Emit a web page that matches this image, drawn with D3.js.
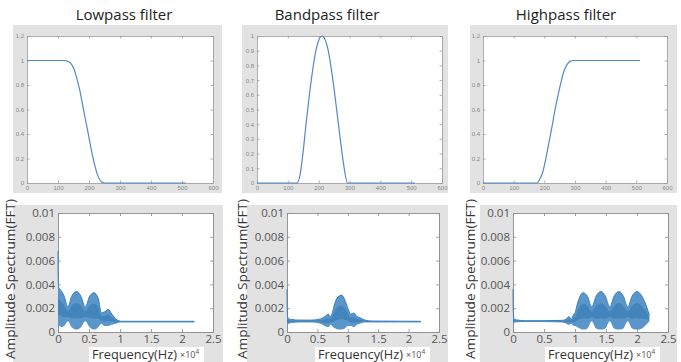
<!DOCTYPE html>
<html><head><meta charset="utf-8">
<script src="https://cdn.jsdelivr.net/npm/d3@7"></script>
<style>body{margin:0;background:#fff}svg{display:block}</style>
</head><body><svg id="c" width="681" height="362"></svg>
<script>
// ---------- data ----------
const titles = ["Lowpass filter", "Bandpass filter", "Highpass filter"];

const lowpassX  = [0,100,120,130,140,150,160,170,180,190,200,210,220,230,240,250,300,400,512];
const lowpassY  = [1,1,1,0.995,0.98,0.94,0.86,0.76,0.63,0.5,0.37,0.24,0.13,0.05,0.01,0,0,0,0];
const bandpassX = [0,100,130,140,150,160,170,180,190,200,211,220,230,240,250,260,270,280,294,300,400,512];
const bandpassY = [0,0,0,0.06,0.22,0.42,0.6,0.76,0.89,0.97,1.0,0.98,0.91,0.79,0.64,0.47,0.3,0.14,0,0,0,0];
const highpassX = [0,100,176,185,195,205,215,225,235,245,255,265,275,285,296,400,512];
const highpassY = [0,0,0,0.03,0.09,0.2,0.33,0.46,0.6,0.72,0.83,0.92,0.97,0.995,1,1,1];

const topXTicks = [0,100,200,300,400,500,600];
const topYTicksA = [0,0.2,0.4,0.6,0.8,1,1.2];
const topYTicksB = [0,0.1,0.2,0.3,0.4,0.5,0.6,0.7,0.8,0.9,1];

const specXTicks = [0,0.5,1,1.5,2,2.5];
const specYTicks = [0,0.002,0.004,0.006,0.008,0.01];

const lowSpecF = [0,0.003,0.01,0.03,0.06,0.1,0.16,0.22,0.3,0.37,0.44,0.51,0.58,0.65,0.7,0.75,0.81,0.87,0.93,0.98,1.02,1.5,2.2];
const lowSpecU = [0.0068,0.0045,0.0038,0.0036,0.0034,0.003,0.0021,0.003,0.0034,0.003,0.0021,0.003,0.0033,0.0028,0.0016,0.0017,0.0019,0.0015,0.0011,0.00095,0.0009,0.0009,0.0009];
const lowSpecL = [0,0.0002,0.0004,0.0005,0.0004,0.0005,0.0009,0.0004,0.0002,0.0004,0.0009,0.0004,0.0002,0.0004,0.0007,0.0005,0.0005,0.0006,0.0007,0.00078,0.0008,0.0008,0.0008];

const bandSpecF = [0,0.004,0.01,0.03,0.08,0.2,0.4,0.55,0.62,0.68,0.72,0.76,0.8,0.85,0.9,0.95,1.0,1.05,1.1,1.15,1.2,1.28,1.4,2.2];
const bandSpecU = [0.0036,0.0018,0.0013,0.0011,0.00105,0.001,0.001,0.0011,0.0013,0.0015,0.0013,0.0019,0.0026,0.003,0.0031,0.0027,0.002,0.0015,0.0016,0.0013,0.0012,0.001,0.00092,0.0009];
const bandSpecL = [0,0.0004,0.0006,0.0007,0.00075,0.0008,0.0008,0.0007,0.0005,0.0004,0.0006,0.0004,0.0003,0.0002,0.0002,0.0003,0.0005,0.0005,0.0004,0.0006,0.0007,0.0008,0.0008,0.0008];

const highSpecF = [0,0.004,0.01,0.03,0.08,0.2,0.5,0.8,0.86,0.9,0.94,0.98,1.0,1.04,1.13,1.2,1.27,1.34,1.42,1.49,1.56,1.63,1.71,1.78,1.85,1.92,2.0,2.08,2.15,2.2];
const highSpecU = [0.0036,0.0018,0.0012,0.00105,0.001,0.00095,0.00095,0.00098,0.0011,0.0013,0.0011,0.0015,0.0016,0.0024,0.0033,0.003,0.0021,0.003,0.0034,0.003,0.0021,0.003,0.0034,0.003,0.0021,0.003,0.0034,0.003,0.0022,0.0014];
const highSpecL = [0,0.0004,0.0006,0.0008,0.00082,0.00085,0.00085,0.0008,0.0007,0.0006,0.0007,0.0005,0.0005,0.0004,0.0002,0.0003,0.0009,0.0003,0.0002,0.0003,0.0009,0.0003,0.0002,0.0003,0.0009,0.0003,0.0002,0.0003,0.0006,0.0009];

// ---------- layout ----------
const panels = [
  {titleX:124, topGrey:[13,25,209,168], topPlot:[27,36,213,183], yTicks:topYTicksA, yMax:1.2, fx:lowpassX, fy:lowpassY,
   botGrey:[13,205,210,157], botPlot:[58,213,213,332], ylabX:10, xlabL:92, sf:lowSpecF, su:lowSpecU, sl:lowSpecL},
  {titleX:327, topGrey:[242,25,206,168], topPlot:[257,36,442,183], yTicks:topYTicksB, yMax:1.0, fx:bandpassX, fy:bandpassY,
   botGrey:[247,205,201,157], botPlot:[287,213,439,332], ylabX:242, xlabL:318, sf:bandSpecF, su:bandSpecU, sl:bandSpecL},
  {titleX:566, topGrey:[470,25,207,168], topPlot:[483,36,667,183], yTicks:topYTicksA, yMax:1.2, fx:highpassX, fy:highpassY,
   botGrey:[480,205,197,157], botPlot:[513,213,668,332], ylabX:470, xlabL:548, sf:highSpecF, su:highSpecU, sl:highSpecL}
];

const svg = d3.select("#c");
svg.append("rect").attr("width",681).attr("height",362).attr("fill","#fff");
const fmt = d3.format("~g");

panels.forEach((p,i)=>{
  svg.append("text").attr("x",p.titleX).attr("y",20).attr("text-anchor","middle")
    .attr("font-family","Open Sans").attr("font-size",15).attr("fill","#222").text(titles[i]);

  // ---------- top panel ----------
  svg.append("rect").attr("x",p.topGrey[0]).attr("y",p.topGrey[1]).attr("width",p.topGrey[2]).attr("height",p.topGrey[3]).attr("fill","#e2e2e2");
  const [l,t,r,b] = p.topPlot;
  svg.append("rect").attr("x",l).attr("y",t).attr("width",r-l).attr("height",b-t).attr("fill","#fff");
  const x = d3.scaleLinear().domain([0,600]).range([l,r]);
  const y = d3.scaleLinear().domain([0,p.yMax]).range([b,t]);
  const ax = (gen, tr, vals, lab)=>{
    const a = svg.append("g").attr("transform",tr).call(gen.tickValues(vals).tickSizeInner(-2.5).tickSizeOuter(0).tickPadding(3).tickFormat(lab?fmt:()=> ""));
    a.select(".domain").attr("stroke","#9a9a9a").attr("stroke-width",0.8);
    a.selectAll(".tick line").attr("stroke","#9a9a9a").attr("stroke-width",0.8);
    a.selectAll("text").attr("fill","#8a8a8a").attr("font-size",6).attr("font-family","Liberation Sans");
    return a;
  };
  ax(d3.axisBottom(x), `translate(0,${b})`, topXTicks, true);
  ax(d3.axisTop(x), `translate(0,${t})`, topXTicks, false);
  ax(d3.axisLeft(y), `translate(${l},0)`, p.yTicks, true);
  ax(d3.axisRight(y), `translate(${r},0)`, p.yTicks, false);
  const pts = p.fx.map((v,k)=>[v,p.fy[k]]);
  svg.append("path").datum(pts).attr("fill","none").attr("stroke","#5189c8").attr("stroke-width",1.2)
    .attr("d", d3.line().x(d=>x(d[0])).y(d=>y(d[1])).curve(d3.curveMonotoneX));

  // ---------- bottom panel ----------
  svg.append("rect").attr("x",p.botGrey[0]).attr("y",p.botGrey[1]).attr("width",p.botGrey[2]).attr("height",p.botGrey[3]).attr("fill","#e2e2e2");
  const [L,T,R,B] = p.botPlot;
  svg.append("rect").attr("x",L).attr("y",T).attr("width",R-L).attr("height",B-T).attr("fill","#fff");
  const X = d3.scaleLinear().domain([0,2.5]).range([L,R]);
  const Y = d3.scaleLinear().domain([0,0.01]).range([B,T]);
  // white box behind x label
  svg.append("rect").attr("x",p.xlabL-3).attr("y",347).attr("width",115).attr("height",15).attr("fill","#fff");
  const ax2 = (gen, tr, vals, lab)=>{
    const a = svg.append("g").attr("transform",tr).call(gen.tickValues(vals).tickSizeInner(-3).tickSizeOuter(0).tickPadding(3).tickFormat(lab?fmt:()=> ""));
    a.select(".domain").attr("stroke","#8a8a8a").attr("stroke-width",0.9);
    a.selectAll(".tick line").attr("stroke","#8a8a8a").attr("stroke-width",0.8);
    a.selectAll("text").attr("fill","#555").attr("font-size",11.5).attr("font-family","Open Sans");
    return a;
  };
  ax2(d3.axisBottom(X), `translate(0,${B})`, specXTicks, true);
  ax2(d3.axisTop(X), `translate(0,${T})`, specXTicks, false);
  ax2(d3.axisLeft(Y), `translate(${L},0)`, specYTicks, true);
  ax2(d3.axisRight(Y), `translate(${R},0)`, specYTicks, false);

  const sp = p.sf.map((f,k)=>({f, u:p.su[k], lo:p.sl[k]}));
  const area = d3.area().x(d=>X(d.f)).y0(d=>Y(d.lo)).y1(d=>Y(d.u)).curve(d3.curveMonotoneX);
  svg.append("path").datum(sp).attr("fill","#5a96ca").attr("d",area);
  const core = d3.area().x(d=>X(d.f))
      .y0(d=>Y(d.lo + (d.u-d.lo)*0.3)).y1(d=>Y(d.u - (d.u-d.lo)*0.3)).curve(d3.curveMonotoneX);
  svg.append("path").datum(sp).attr("fill","#2a6fab").attr("opacity",0.45).attr("d",core);
  svg.append("path").datum(sp).attr("fill","none").attr("stroke","#3b80bd").attr("stroke-width",1)
    .attr("d", d3.line().x(d=>X(d.f)).y(d=>Y(d.u)).curve(d3.curveMonotoneX));

  // labels
  svg.append("text").attr("transform",`translate(${p.ylabX+5},279) rotate(-90)`).attr("text-anchor","middle")
    .attr("font-family","Open Sans").attr("font-size",13.5).attr("fill","#333")
    .attr("textLength",160).attr("lengthAdjust","spacingAndGlyphs").text("Amplitude Spectrum(FFT)");
  svg.append("text").attr("x",p.xlabL).attr("y",359)
    .attr("font-family","Open Sans").attr("font-size",13).attr("fill","#333")
    .attr("textLength",85).attr("lengthAdjust","spacingAndGlyphs").text("Frequency(Hz)");
  const mt = svg.append("text").attr("x",p.xlabL+88).attr("y",358).attr("font-family","Open Sans").attr("font-size",9).attr("fill","#555");
  mt.append("tspan").text("\u00d710");
  mt.append("tspan").attr("dy",-4).attr("font-size",6.5).text("4");
});
</script></body></html>
